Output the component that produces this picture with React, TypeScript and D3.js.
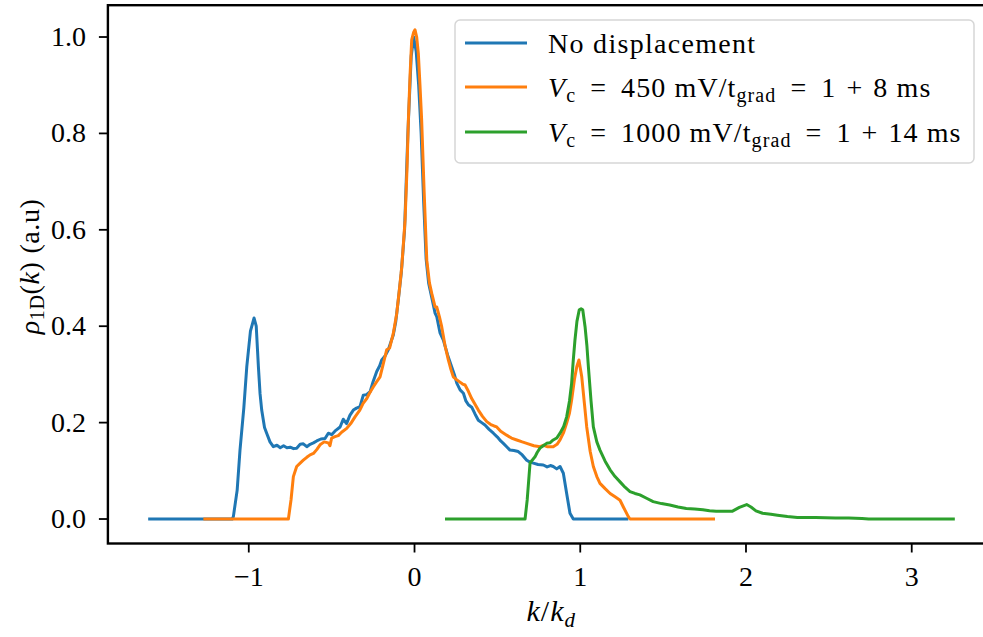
import React from "react";
import * as d3 from "d3";

const xTicks = [-1, 0, 1, 2, 3];
const yTicks = [0.0, 0.2, 0.4, 0.6, 0.8, 1.0];
const yTickLabels = ["0.0", "0.2", "0.4", "0.6", "0.8", "1.0"];
const xTickLabels = ["\u22121", "0", "1", "2", "3"];

const blueK = [-1.607, -1.10, -1.093, -1.07, -1.053, -1.03, -1.012, -0.99, -0.968, -0.955, -0.942, -0.932, -0.922, -0.905, -0.892, -0.872, -0.852, -0.83, -0.81, -0.79, -0.77, -0.75, -0.73, -0.711, -0.69, -0.671, -0.65, -0.63, -0.61, -0.59, -0.565, -0.54, -0.52, -0.50, -0.475, -0.449, -0.43, -0.41, -0.39, -0.369, -0.35, -0.329, -0.309, -0.29, -0.268, -0.25, -0.228, -0.21, -0.198, -0.178, -0.158, -0.14, -0.128, -0.113, -0.098, -0.08, -0.06, -0.04, -0.02, -0.005, 0.01, 0.025, 0.04, 0.055, 0.07, 0.085, 0.094, 0.11, 0.124, 0.134, 0.154, 0.174, 0.2, 0.224, 0.24, 0.255, 0.275, 0.295, 0.31, 0.325, 0.345, 0.365, 0.385, 0.405, 0.425, 0.45, 0.476, 0.5, 0.52, 0.536, 0.556, 0.576, 0.6, 0.626, 0.65, 0.677, 0.697, 0.717, 0.745, 0.777, 0.80, 0.82, 0.837, 0.858, 0.878, 0.898, 0.918, 0.938, 0.958, 0.98, 1.29];
const blueRho = [0, 0, 0.005, 0.06, 0.143, 0.23, 0.316, 0.39, 0.417, 0.40, 0.316, 0.26, 0.226, 0.19, 0.178, 0.16, 0.150, 0.153, 0.148, 0.152, 0.148, 0.149, 0.146, 0.147, 0.155, 0.156, 0.150, 0.155, 0.158, 0.162, 0.166, 0.167, 0.178, 0.175, 0.184, 0.191, 0.207, 0.198, 0.215, 0.226, 0.230, 0.233, 0.257, 0.258, 0.264, 0.285, 0.306, 0.318, 0.330, 0.338, 0.351, 0.37, 0.382, 0.41, 0.454, 0.51, 0.60, 0.80, 0.96, 1.0, 0.97, 0.90, 0.80, 0.66, 0.54, 0.49, 0.475, 0.45, 0.427, 0.42, 0.386, 0.371, 0.34, 0.316, 0.30, 0.282, 0.268, 0.261, 0.245, 0.237, 0.232, 0.218, 0.205, 0.200, 0.195, 0.186, 0.178, 0.170, 0.162, 0.157, 0.150, 0.143, 0.142, 0.140, 0.133, 0.122, 0.118, 0.116, 0.113, 0.112, 0.108, 0.111, 0.109, 0.104, 0.109, 0.095, 0.053, 0.012, 0.0, 0, 0];

const orangeK = [-1.274, -0.761, -0.745, -0.731, -0.711, -0.69, -0.671, -0.65, -0.63, -0.61, -0.59, -0.57, -0.545, -0.52, -0.51, -0.5, -0.48, -0.46, -0.44, -0.409, -0.385, -0.359, -0.33, -0.31, -0.288, -0.27, -0.249, -0.23, -0.208, -0.19, -0.168, -0.15, -0.128, -0.107, -0.09, -0.077, -0.057, -0.045, -0.037, -0.027, -0.017, -0.005, 0.003, 0.013, 0.023, 0.033, 0.043, 0.058, 0.074, 0.09, 0.104, 0.124, 0.134, 0.15, 0.164, 0.184, 0.204, 0.22, 0.234, 0.25, 0.27, 0.29, 0.305, 0.325, 0.345, 0.365, 0.385, 0.41, 0.436, 0.46, 0.48, 0.496, 0.52, 0.556, 0.585, 0.617, 0.65, 0.677, 0.72, 0.757, 0.78, 0.80, 0.837, 0.86, 0.878, 0.9, 0.918, 0.935, 0.948, 0.965, 0.979, 0.992, 1.009, 1.025, 1.039, 1.06, 1.079, 1.1, 1.119, 1.15, 1.18, 1.21, 1.24, 1.26, 1.29, 1.30, 1.813];
const orangeRho = [0, 0, 0.04, 0.088, 0.109, 0.116, 0.122, 0.128, 0.133, 0.136, 0.144, 0.154, 0.160, 0.158, 0.152, 0.168, 0.171, 0.173, 0.18, 0.188, 0.198, 0.212, 0.226, 0.24, 0.250, 0.262, 0.274, 0.284, 0.295, 0.32, 0.351, 0.355, 0.385, 0.427, 0.48, 0.523, 0.62, 0.73, 0.828, 0.92, 0.994, 1.01, 1.015, 1.0, 0.966, 0.90, 0.828, 0.68, 0.537, 0.49, 0.468, 0.44, 0.44, 0.42, 0.399, 0.36, 0.330, 0.31, 0.295, 0.290, 0.285, 0.280, 0.278, 0.265, 0.250, 0.238, 0.226, 0.213, 0.202, 0.196, 0.193, 0.191, 0.182, 0.174, 0.168, 0.164, 0.160, 0.157, 0.152, 0.150, 0.153, 0.15, 0.150, 0.155, 0.164, 0.18, 0.199, 0.22, 0.247, 0.29, 0.316, 0.330, 0.295, 0.24, 0.191, 0.14, 0.109, 0.088, 0.074, 0.063, 0.053, 0.046, 0.039, 0.025, 0.005, 0, 0];

const greenK = [0.184, 0.667, 0.68, 0.697, 0.71, 0.727, 0.74, 0.757, 0.777, 0.797, 0.817, 0.837, 0.858, 0.878, 0.9, 0.918, 0.935, 0.948, 0.958, 0.968, 0.98, 0.994, 1.005, 1.015, 1.029, 1.04, 1.049, 1.065, 1.079, 1.1, 1.119, 1.15, 1.18, 1.21, 1.24, 1.27, 1.30, 1.33, 1.36, 1.40, 1.44, 1.49, 1.54, 1.59, 1.64, 1.69, 1.74, 1.78, 1.82, 1.87, 1.916, 1.96, 2.004, 2.03, 2.06, 2.10, 2.15, 2.19, 2.25, 2.31, 2.42, 2.54, 2.62, 2.70, 2.74, 3.26];
const greenRho = [0, 0, 0.04, 0.116, 0.122, 0.129, 0.138, 0.147, 0.152, 0.157, 0.158, 0.164, 0.168, 0.178, 0.192, 0.212, 0.245, 0.282, 0.33, 0.371, 0.41, 0.434, 0.436, 0.434, 0.399, 0.36, 0.316, 0.245, 0.191, 0.16, 0.143, 0.12, 0.102, 0.088, 0.077, 0.066, 0.057, 0.053, 0.050, 0.043, 0.036, 0.032, 0.029, 0.025, 0.022, 0.021, 0.019, 0.017, 0.016, 0.016, 0.016, 0.024, 0.030, 0.025, 0.017, 0.012, 0.010, 0.008, 0.005, 0.003, 0.003, 0.002, 0.002, 0.001, 0, 0];

const legendVc = ["450", "1000"];
const legendT = ["8", "14"];

const colors = ["#1f77b4", "#ff7f0e", "#2ca02c"];

const W = 983;
const H = 637;
const FONT = "Liberation Serif";
const FS = 28;
const TS = { fontFamily: FONT };

export default function App() {
  const x = d3.scaleLinear().domain([-1.85, 3.5]).range([107.9, 994.6]);
  const y = d3.scaleLinear().domain([-0.0508, 1.066]).range([543.5, 5.2]);
  const line = d3
    .line<[number, number]>()
    .x((d) => x(d[0]))
    .y((d) => y(d[1]));

  const series = [
    { k: blueK, r: blueRho },
    { k: orangeK, r: orangeRho },
    { k: greenK, r: greenRho },
  ];

  const left = x.range()[0];
  const right = x.range()[1];
  const top = y.range()[1];
  const bottom = y.range()[0];

  const legendRows = [43, 87, 132];
  const SUB = 20;

  return (
    <svg width={W} height={H} style={{ position: "absolute", left: 0, top: 0, background: "#fff" }}>
      <rect x={0} y={0} width={W} height={H} fill="#fff" />
      <defs>
        <clipPath id="plotclip">
          <rect x={left} y={top} width={right - left} height={bottom - top} />
        </clipPath>
      </defs>
      <g clipPath="url(#plotclip)">
        {series.map((s, i) => (
          <path
            key={i}
            d={line(s.k.map((kv, j) => [kv, s.r[j]] as [number, number])) || ""}
            fill="none"
            stroke={colors[i]}
            strokeWidth={3}
            strokeLinejoin="round"
            strokeLinecap="butt"
          />
        ))}
      </g>
      <rect x={left} y={top} width={right - left} height={bottom - top} fill="none" stroke="#000" strokeWidth={2.4} />
      {yTicks.map((t, i) => (
        <g key={"y" + i}>
          <line x1={left - 9} x2={left} y1={y(t)} y2={y(t)} stroke="#000" strokeWidth={1.8} />
          <text x={86} y={y(t) + 9} textAnchor="end" fontSize={FS} fill="#000" style={TS}>
            {yTickLabels[i]}
          </text>
        </g>
      ))}
      {xTicks.map((t, i) => (
        <g key={"x" + i}>
          <line x1={x(t)} x2={x(t)} y1={bottom} y2={bottom + 9} stroke="#000" strokeWidth={1.8} />
          <text x={x(t)} y={586} textAnchor="middle" fontSize={FS} fill="#000" style={TS}>
            {xTickLabels[i]}
          </text>
        </g>
      ))}
      <text x={(left + right) / 2} y={621} textAnchor="middle" fontSize={30} fill="#000" style={TS} letterSpacing={1}>
        <tspan fontStyle="italic">k</tspan>
        <tspan>/</tspan>
        <tspan fontStyle="italic">k</tspan>
        <tspan fontStyle="italic" fontSize={21} dy={6}>d</tspan>
      </text>
      <text
        transform={`translate(39, ${(top + bottom) / 2 - 8}) rotate(-90)`}
        textAnchor="middle"
        fontSize={FS}
        fill="#000"
        style={TS}
        letterSpacing={0.6}
      >
        <tspan fontStyle="italic">ρ</tspan>
        <tspan fontSize={SUB} dy={5}>1D</tspan>
        <tspan dy={-5}>(</tspan>
        <tspan fontStyle="italic">k</tspan>
        <tspan>{")"}</tspan>
        <tspan dx={8}>{"(a.u)"}</tspan>
      </text>
      <rect x={455} y={20} width={519} height={143} rx={5} fill="#fff" fillOpacity={0.8} stroke="#d6d6d6" strokeWidth={1.5} />
      {legendRows.map((ry, i) => (
        <line key={"l" + i} x1={465} x2={527} y1={ry} y2={ry} stroke={colors[i]} strokeWidth={3} />
      ))}
      <text x={548} y={legendRows[0] + 10} fontSize={FS} fill="#000" letterSpacing={1.3} style={TS}>
        No displacement
      </text>
      {legendVc.map((v, i) => (
        <text key={"lt" + i} x={548} y={legendRows[i + 1] + 10} fontSize={FS} fill="#000" letterSpacing={1.1} style={TS}>
          <tspan fontStyle="italic">V</tspan>
          <tspan fontSize={SUB} dy={5}>c</tspan>
          <tspan dy={-5} dx={14}>{"="}</tspan>
          <tspan dx={14}>{v + " mV/t"}</tspan>
          <tspan fontSize={SUB} dy={5}>grad</tspan>
          <tspan dy={-5} dx={14}>{"="}</tspan>
          <tspan dx={14}>{"1"}</tspan>
          <tspan dx={10}>{"+"}</tspan>
          <tspan dx={10}>{legendT[i] + " ms"}</tspan>
        </text>
      ))}
    </svg>
  );
}
